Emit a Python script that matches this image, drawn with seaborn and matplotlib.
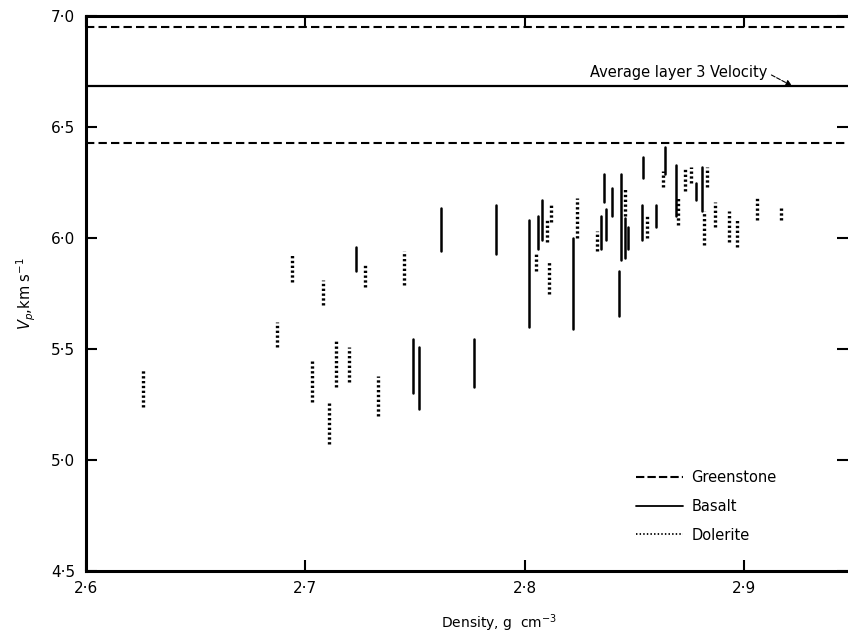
import numpy as np
import pandas as pd
import matplotlib
matplotlib.use('agg')
import matplotlib.pyplot as plt
from matplotlib.lines import Line2D
import seaborn as sns

# basalt velocity ranges (vertical solid bars)
basalt_density = [2.723, 2.749, 2.752, 2.762, 2.777, 2.787, 2.802, 2.806, 2.808, 2.822,
                  2.835, 2.837, 2.836, 2.840, 2.843, 2.844, 2.846, 2.847, 2.854, 2.8535,
                  2.860, 2.864, 2.869, 2.878, 2.881]
basalt_vp_lo = [5.85, 5.30, 5.23, 5.94, 5.33, 5.93, 5.60, 5.95, 5.99, 5.59,
                5.95, 5.99, 6.16, 6.10, 5.65, 5.90, 5.91, 5.95, 6.27, 5.99,
                6.05, 6.29, 6.10, 6.17, 6.12]
basalt_vp_hi = [5.96, 5.545, 5.51, 6.135, 5.545, 6.15, 6.08, 6.10, 6.17, 6.00,
                6.10, 6.13, 6.29, 6.225, 5.85, 6.29, 6.09, 6.05, 6.365, 6.15,
                6.15, 6.41, 6.33, 6.25, 6.32]

# dolerite velocity ranges (vertical dotted bars)
dolerite_density = [2.626, 2.687, 2.694, 2.703, 2.708, 2.711, 2.714, 2.720, 2.727, 2.733,
                    2.745, 2.805, 2.810, 2.812, 2.811, 2.824, 2.833, 2.846, 2.856, 2.863,
                    2.870, 2.873, 2.876, 2.882, 2.883, 2.887, 2.893, 2.897, 2.906, 2.917]
dolerite_vp_lo = [5.24, 5.51, 5.80, 5.26, 5.70, 5.07, 5.33, 5.35, 5.78, 5.20,
                  5.79, 5.85, 5.98, 6.07, 5.75, 6.00, 5.94, 6.10, 6.00, 6.23,
                  6.06, 6.21, 6.25, 5.97, 6.23, 6.05, 5.98, 5.96, 6.08, 6.08]
dolerite_vp_hi = [5.41, 5.62, 5.93, 5.455, 5.81, 5.26, 5.545, 5.51, 5.88, 5.38,
                  5.94, 5.93, 6.08, 6.15, 5.89, 6.18, 6.03, 6.23, 6.10, 6.30,
                  6.18, 6.32, 6.32, 6.12, 6.32, 6.16, 6.12, 6.09, 6.19, 6.14]

greenstone_vp = [6.95, 6.43]
layer3_vp = 6.685

x_ticks = [2.6, 2.7, 2.8, 2.9]
x_tick_labels = ['2·6', '2·7', '2·8', '2·9']
y_ticks = [4.5, 5.0, 5.5, 6.0, 6.5, 7.0]
y_tick_labels = ['4·5', '5·0', '5·5', '6·0', '6·5', '7·0']


def to_long(density, lo, hi, rock):
    rows = []
    for i, (d, a, b) in enumerate(zip(density, lo, hi)):
        rows.append((rock + str(i), rock, d, a))
        rows.append((rock + str(i), rock, d, b))
    return pd.DataFrame(rows, columns=['seg', 'rock', 'density', 'vp'])


sns.set_theme(style='ticks')
plt.rcParams['font.family'] = ['DejaVu Sans']
plt.rcParams['text.color'] = 'black'
plt.rcParams['axes.labelcolor'] = 'black'

fig = plt.figure(figsize=(8.48, 6.34), dpi=100)
ax = fig.add_axes([86/848, 1-571/634, (848-86)/848, (571-16)/634])

basalt_df = to_long(basalt_density, basalt_vp_lo, basalt_vp_hi, 'Basalt')
dolerite_df = to_long(dolerite_density, dolerite_vp_lo, dolerite_vp_hi, 'Dolerite')

sns.lineplot(data=basalt_df, x='density', y='vp', units='seg', estimator=None,
             color='black', lw=1.8, legend=False, ax=ax)
sns.lineplot(data=dolerite_df, x='density', y='vp', units='seg', estimator=None,
             color='black', lw=2.4, linestyle=(0, (0.7, 0.75)), legend=False, ax=ax)

for g in greenstone_vp:
    ax.axhline(g, color='black', lw=1.5, ls=(0, (4, 2)))
ax.axhline(layer3_vp, color='black', lw=1.6)

ax.annotate('Average layer 3 Velocity', xy=(2.922, layer3_vp), xytext=(2.9105, 6.745),
            ha='right', va='center', fontsize=10.5,
            arrowprops=dict(arrowstyle='-|>', color='black', lw=0.8, ls='--',
                            relpos=(1, 0.5), shrinkA=1, shrinkB=0, mutation_scale=9))

ax.set_xlim(2.6, 2.6 + 762/2193)
ax.set_ylim(4.5, 7.0)
ax.set_xticks(x_ticks)
ax.set_xticklabels(x_tick_labels)
ax.set_yticks(y_ticks)
ax.set_yticklabels(y_tick_labels)
ax.tick_params(direction='in', top=True, right=True, length=8, width=1.5,
               labelsize=11, color='black', labelcolor='black')
ax.tick_params(axis='x', pad=7)
ax.tick_params(axis='y', pad=8)
for side in ['left', 'bottom', 'top']:
    ax.spines[side].set_linewidth(2.2)
    ax.spines[side].set_color('black')
ax.spines['right'].set_visible(False)

ax.set_xlabel('Density, g  cm$^{-3}$', fontsize=10)
ax.xaxis.set_label_coords(0.542, -0.074)
ax.set_ylabel('$V_p$,km s$^{-1}$', fontsize=10.5)
ax.yaxis.set_label_coords(-0.063, 0.5)

handles = [Line2D([], [], color='black', lw=1.5, ls=(0, (4, 1.5))),
           Line2D([], [], color='black', lw=1.3),
           Line2D([], [], color='black', lw=1.3, ls=(0, (0.8, 1.2)))]
ax.legend(handles, ['Greenstone', 'Basalt', 'Dolerite'], loc='upper left',
          bbox_to_anchor=((630-86)/762, (571-464)/555), frameon=False,
          handlelength=3.2, handletextpad=0.6, labelspacing=0.95,
          borderaxespad=0, fontsize=10.5)

fig.savefig('out.png', dpi=100)
